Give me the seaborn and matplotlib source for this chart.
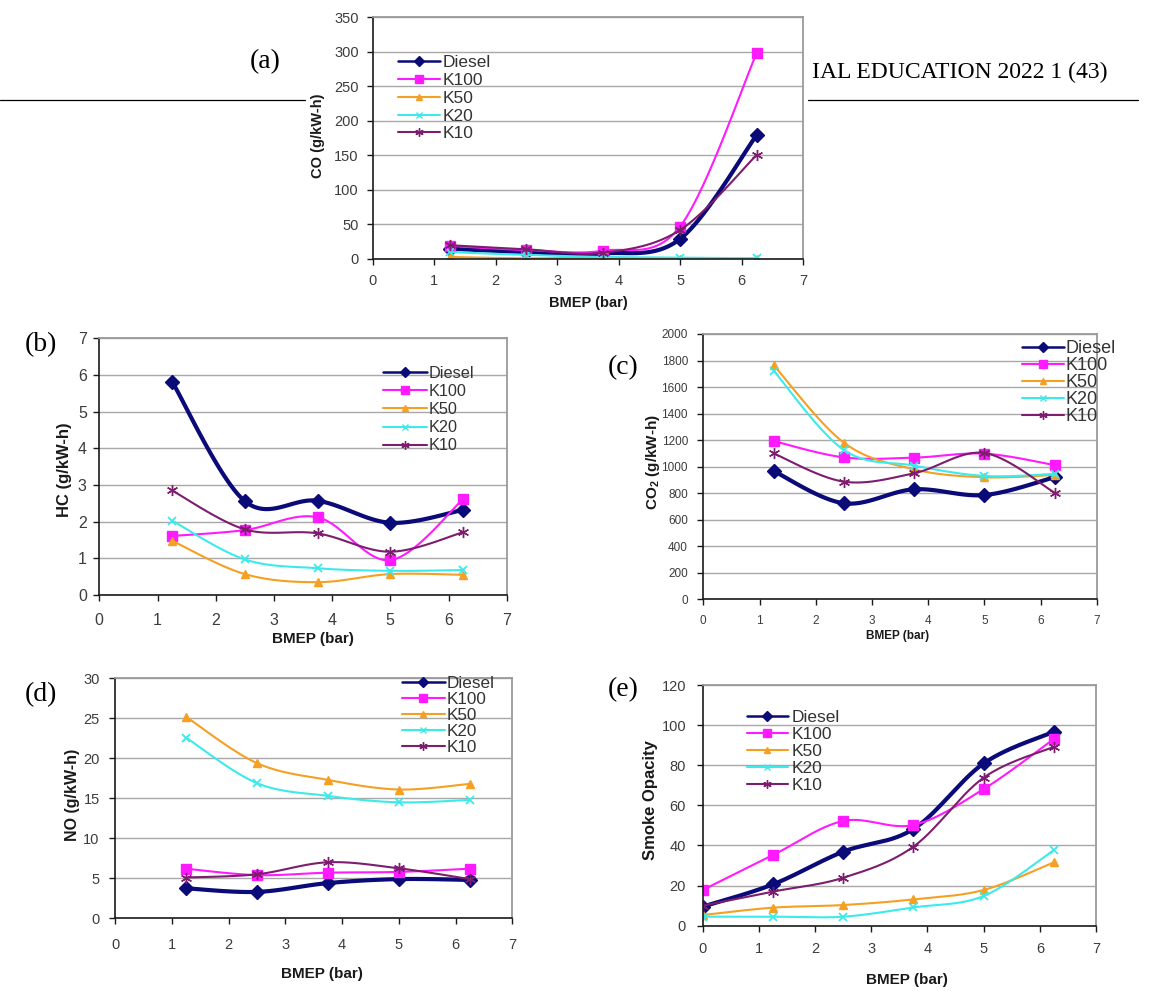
import matplotlib
matplotlib.use('Agg')
import matplotlib.pyplot as plt
from matplotlib.lines import Line2D
import seaborn as sns
import numpy as np

# BMEP load points (bar)
bmep = [1.25, 2.5, 3.75, 5, 6.25]
bmep_smoke = [0, 1.25, 2.5, 3.75, 5, 6.25]
fuels = ['Diesel', 'K100', 'K50', 'K20', 'K10']

# (a) CO emission, g/kW-h
co = {
    'Diesel': [15, 10, 8, 29, 180],
    'K100': [19, 13, 12, 47, 299],
    'K50': [3, 1, 2, 0.5, 0.5],
    'K20': [10, 6, 3, 2, 1],
    'K10': [20, 14, 9, 42, 151],
}
# (b) HC emission, g/kW-h
hc = {
    'Diesel': [5.82, 2.56, 2.57, 1.97, 2.32],
    'K100': [1.61, 1.77, 2.12, 0.95, 2.61],
    'K50': [1.48, 0.57, 0.35, 0.57, 0.55],
    'K20': [2.03, 0.97, 0.73, 0.66, 0.68],
    'K10': [2.85, 1.79, 1.68, 1.18, 1.71],
}
# (c) CO2 emission, g/kW-h
co2 = {
    'Diesel': [967, 724, 829, 786, 920],
    'K100': [1193, 1070, 1068, 1098, 1012],
    'K50': [1766, 1181, 980, 920, 937],
    'K20': [1724, 1126, 1008, 930, 945],
    'K10': [1100, 887, 950, 1103, 804],
}
# (d) NO emission, g/kW-h
no = {
    'Diesel': [3.75, 3.3, 4.4, 4.9, 4.8],
    'K100': [6.2, 5.4, 5.7, 5.8, 6.2],
    'K50': [25.2, 19.4, 17.3, 16.1, 16.8],
    'K20': [22.6, 16.9, 15.3, 14.5, 14.8],
    'K10': [5.1, 5.5, 7.0, 6.25, 4.9],
}
# (e) smoke opacity
smoke = {
    'Diesel': [9.5, 20.6, 36.9, 48.2, 80.9, 96.7],
    'K100': [17.8, 35.2, 52.2, 50.2, 68.1, 93.1],
    'K50': [5.3, 9, 10.3, 13.1, 17.8, 31.6],
    'K20': [4.5, 4.5, 4.5, 9.1, 14.8, 37.7],
    'K10': [10, 17, 23.9, 39.4, 73.8, 89.2],
}

W, H = 1156, 991

styles = {
    'Diesel': dict(color='#0a0a78', lw=3.0, marker='D', ms=7, mew=1),
    'K100': dict(color='#ff1aff', lw=1.5, marker='s', ms=7, mew=1),
    'K50': dict(color='#f5a023', lw=1.5, marker='^', ms=6, mew=1),
    'K20': dict(color='#3deaea', lw=1.5, marker='x', ms=6, mew=1.3),
    'K10': dict(color='#7d1d6e', lw=1.5, marker=(6, 2, 0), ms=8, mew=1),
}
legend_ms = {'Diesel': 5, 'K100': 6, 'K50': 5, 'K20': 5, 'K10': 6}


def smooth(x, y, n=30):
    # Excel style smoothed line (Catmull-Rom as cubic Bezier)
    p = np.column_stack([x, y]).astype(float)
    p = np.vstack([p[:1], p, p[-1:]])
    t = np.linspace(0, 1, n)[:, None]
    out = []
    for i in range(1, len(p) - 2):
        a, b = p[i], p[i + 1]
        c1 = a + (p[i + 1] - p[i - 1]) / 6
        c2 = b - (p[i + 2] - p[i]) / 6
        seg = (1 - t) ** 3 * a + 3 * (1 - t) ** 2 * t * c1 + 3 * (1 - t) * t ** 2 * c2 + t ** 3 * b
        out.append(seg if i == 1 else seg[1:])
    out = np.vstack(out)
    return out[:, 0], out[:, 1]


def fx(x):
    return x / W


def fy(y):
    return 1 - y / H


sns.set_theme(style='white')
plt.rcParams['font.family'] = ['Liberation Sans', 'DejaVu Sans']
plt.rcParams['mathtext.fontset'] = 'custom'
plt.rcParams['mathtext.rm'] = 'Liberation Sans'
plt.rcParams['mathtext.bf'] = 'Liberation Sans:bold'

fig = plt.figure(figsize=(W / 100, H / 100), dpi=100)
fig.patch.set_facecolor('white')

# panels: axes box in pixels (left, top, right, bottom) and text settings
panels = [
    dict(box=(372.7, 17.3, 803, 259), data=co, x=bmep, ymax=350, step=50,
         ylabel='CO (g/kW-h)', ylab_pos=(318, 136), ylab_fs=10.5,
         xlab_pos=(588, 303), xlab_fs=10.5, tick_fs=10.5, ypad=6, xpad=7,
         leg=(398, 55.3), leg_fs=12.5, leg_sp=0.15, leg_hl=2.4, leg_tp=0.17,
         tag='(a)', tag_pos=(250, 62)),
    dict(box=(99.3, 338.3, 506.7, 595), data=hc, x=bmep, ymax=7, step=1,
         ylabel='HC (g/kW-h)', ylab_pos=(65, 470), ylab_fs=12,
         xlab_pos=(313, 639), xlab_fs=11, tick_fs=11.5, ypad=5, xpad=9,
         leg=(383, 366), leg_fs=11.7, leg_sp=0.19, leg_hl=2.7, leg_tp=0.1,
         tag='(b)', tag_pos=(25, 345)),
    dict(box=(703.3, 334, 1096.7, 599.3), data=co2, x=bmep, ymax=2000, step=200,
         ylabel=r'CO$_\mathbf{2}$ (g/kW-h)', ylab_pos=(653, 462), ylab_fs=11,
         xlab_pos=(898, 636), xlab_fs=8.5, tick_fs=8.5, ypad=7, xpad=7,
         leg=(1022, 340), leg_fs=13, leg_sp=0.0, leg_hl=2.3, leg_tp=0.1,
         tag='(c)', tag_pos=(608, 368)),
    dict(box=(115, 678.3, 512.3, 918.3), data=no, x=bmep, ymax=30, step=5,
         ylabel='NO (g/kW-h)', ylab_pos=(72, 795), ylab_fs=11.5,
         xlab_pos=(322, 974), xlab_fs=11, tick_fs=10.5, ypad=7, xpad=10,
         leg=(402, 675.5), leg_fs=12.3, leg_sp=0.07, leg_hl=2.5, leg_tp=0.12,
         tag='(d)', tag_pos=(25, 695)),
    dict(box=(702.7, 685, 1096, 925.7), data=smoke, x=bmep_smoke, ymax=120, step=20,
         ylabel='Smoke Opacity', ylab_pos=(650, 800), ylab_fs=12,
         xlab_pos=(907, 980), xlab_fs=11, tick_fs=10.5, ypad=8, xpad=8,
         leg=(747, 710), leg_fs=12.5, leg_sp=0.11, leg_hl=2.35, leg_tp=0.2,
         tag='(e)', tag_pos=(608, 690)),
]

for p in panels:
    l, t, r, b = p['box']
    ax = fig.add_axes([fx(l), fy(b), (r - l) / W, (b - t) / H])
    ax.set_facecolor('white')
    for fuel in fuels:
        st = styles[fuel]
        xs, ys = smooth(p['x'], p['data'][fuel])
        sns.lineplot(x=xs, y=ys, sort=False, estimator=None, ax=ax,
                     color=st['color'], lw=st['lw'])
        ax.plot(p['x'], p['data'][fuel], ls='none', marker=st['marker'],
                ms=st['ms'], color=st['color'], mec=st['color'], mew=st['mew'])
    ax.set_xlim(0, 7)
    ax.set_ylim(0, p['ymax'])
    ax.set_xticks(range(0, 8))
    ax.set_yticks(np.arange(0, p['ymax'] + p['step'] / 2, p['step']))
    ax.yaxis.grid(True, color='#a8a8a8', lw=1)
    ax.set_axisbelow(True)
    for s in ['top', 'right']:
        ax.spines[s].set_color('#9a9a9a')
        ax.spines[s].set_linewidth(1.3)
    for s in ['left', 'bottom']:
        ax.spines[s].set_color('#1a1a1a')
        ax.spines[s].set_linewidth(1.2)
    ax.tick_params(axis='both', direction='out', length=4, width=1,
                   color='#1a1a1a', labelcolor='#3c3c3c', labelsize=p['tick_fs'],
                   left=True, bottom=True)
    ax.tick_params(axis='y', pad=p['ypad'])
    ax.tick_params(axis='x', pad=p['xpad'])
    ax.set_xlabel('')
    ax.set_ylabel('')

    handles = [Line2D([], [], color=styles[f]['color'],
                      lw=min(styles[f]['lw'], 1.8), marker=styles[f]['marker'],
                      ms=legend_ms[f], mew=1) for f in fuels]
    leg = ax.legend(handles, fuels, loc='upper left',
                    bbox_to_anchor=(fx(p['leg'][0]), fy(p['leg'][1])),
                    bbox_transform=fig.transFigure, frameon=False,
                    fontsize=p['leg_fs'], borderpad=0, borderaxespad=0,
                    labelspacing=p['leg_sp'], handlelength=p['leg_hl'],
                    handletextpad=p['leg_tp'], numpoints=1)
    for txt in leg.get_texts():
        txt.set_color('#333333')

    fig.text(fx(p['ylab_pos'][0]), fy(p['ylab_pos'][1]), p['ylabel'],
             rotation=90, ha='center', va='center', fontsize=p['ylab_fs'],
             fontweight='bold', color='#1a1a1a')
    fig.text(fx(p['xlab_pos'][0]), fy(p['xlab_pos'][1]), 'BMEP (bar)',
             ha='center', va='center', fontsize=p['xlab_fs'],
             fontweight='bold', color='#1a1a1a')
    fig.text(fx(p['tag_pos'][0]), fy(p['tag_pos'][1]), p['tag'],
             ha='left', va='center', fontsize=20, family='Liberation Serif',
             color='black')

# journal page header seen behind panel (a)
fig.text(fx(812), fy(72), 'IAL EDUCATION 2022 1 (43)', ha='left', va='center',
         fontsize=17, family='Liberation Serif', color='black')
fig.add_artist(Line2D([0, fx(305)], [fy(100), fy(100)], color='black', lw=0.9))
fig.add_artist(Line2D([fx(808), fx(1138)], [fy(100), fy(100)], color='black', lw=0.9))

fig.savefig('out.png', dpi=100, facecolor='white')
